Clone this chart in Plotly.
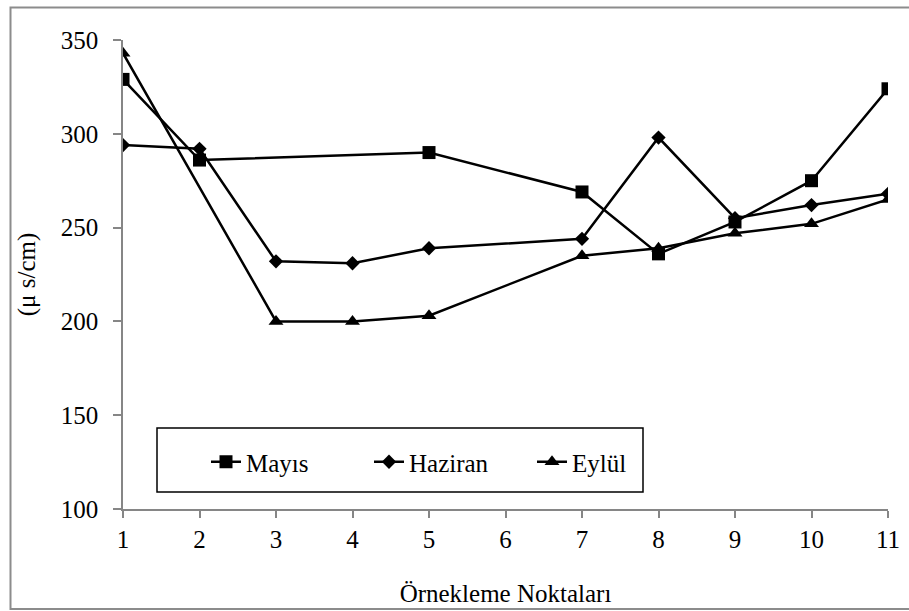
import plotly.graph_objects as go

# Data
x_mayis = [1, 2, 5, 7, 8, 9, 10, 11]
y_mayis = [329, 286, 290, 269, 236, 253, 275, 324]
x_haziran = [1, 2, 3, 4, 5, 7, 8, 9, 10, 11]
y_haziran = [294, 292, 232, 231, 239, 244, 298, 255, 262, 268]
x_eylul = [1, 3, 4, 5, 7, 8, 9, 10, 11]
y_eylul = [343, 200, 200, 203, 235, 239, 247, 252, 265]
x_ticks = [1, 2, 3, 4, 5, 6, 7, 8, 9, 10, 11]
y_ticks = [100, 150, 200, 250, 300, 350]

FONT = "Liberation Serif"
FS = 25
AXC = "#868686"

W, H = 909, 611
ML, MR, MT, MB = 123, 21, 40, 102
PW = W - ML - MR
PH = H - MT - MB

def px(x):
    return (x - ML) / PW

def py(y):
    return (H - MB - y) / PH

fig = go.Figure()
fig.add_trace(go.Scatter(x=x_mayis, y=y_mayis, name="Mayıs", mode="lines+markers",
                         line=dict(color="black", width=2.5),
                         marker=dict(symbol="square", size=13, color="black")))
fig.add_trace(go.Scatter(x=x_haziran, y=y_haziran, name="Haziran", mode="lines+markers",
                         line=dict(color="black", width=2.5),
                         marker=dict(symbol="diamond", size=11, color="black")))
fig.add_trace(go.Scatter(x=x_eylul, y=y_eylul, name="Eylül", mode="lines+markers",
                         line=dict(color="black", width=2.5),
                         marker=dict(symbol="triangle-up", size=13, color="black")))

fig.update_layout(
    width=W, height=H,
    margin=dict(l=ML, r=MR, t=MT, b=MB),
    paper_bgcolor="white", plot_bgcolor="white",
    font=dict(family=FONT, size=FS, color="black"),
    showlegend=True,
    legend=dict(orientation="h", x=px(206), xanchor="left", y=py(462), yanchor="middle",
                bgcolor="rgba(0,0,0,0)", borderwidth=0,
                font=dict(family=FONT, size=FS, color="black"),
                entrywidth=118, entrywidthmode="pixels", itemwidth=30),
    xaxis=dict(range=[1, 11], tickmode="array", tickvals=x_ticks,
               ticktext=[str(v) for v in x_ticks],
               showline=True, linecolor=AXC, linewidth=1.5,
               ticks="outside", ticklen=7, tickcolor=AXC, tickwidth=1.5,
               showgrid=False, zeroline=False, automargin=False,
               ticklabelstandoff=0,
               title=dict(text="Örnekleme Noktaları", standoff=33,
                          font=dict(family=FONT, size=FS))),
    yaxis=dict(range=[100, 350], tickmode="array", tickvals=y_ticks,
               showline=True, linecolor=AXC, linewidth=1.5,
               ticks="outside", ticklen=8, tickcolor=AXC, tickwidth=1.5,
               showgrid=False, zeroline=False, automargin=False,
               ticklabelstandoff=10,
               title=dict(text="(μ s/cm)", standoff=18,
                          font=dict(family=FONT, size=FS))),
)

# Legend box
fig.add_shape(type="rect", xref="paper", yref="paper",
              x0=px(157), x1=px(643), y0=py(492), y1=py(428),
              line=dict(color="black", width=1.5), fillcolor="rgba(0,0,0,0)", layer="below")
# Chart outer border
fig.add_shape(type="rect", xref="paper", yref="paper",
              x0=px(10.5), x1=px(915), y0=py(609), y1=py(7.5),
              line=dict(color="#8c8c8c", width=2), fillcolor="rgba(0,0,0,0)", layer="below")

fig.write_html("out.html", config={"displayModeBar": False},
               post_script="document.body.style.margin='0px';document.body.style.overflow='hidden';")
